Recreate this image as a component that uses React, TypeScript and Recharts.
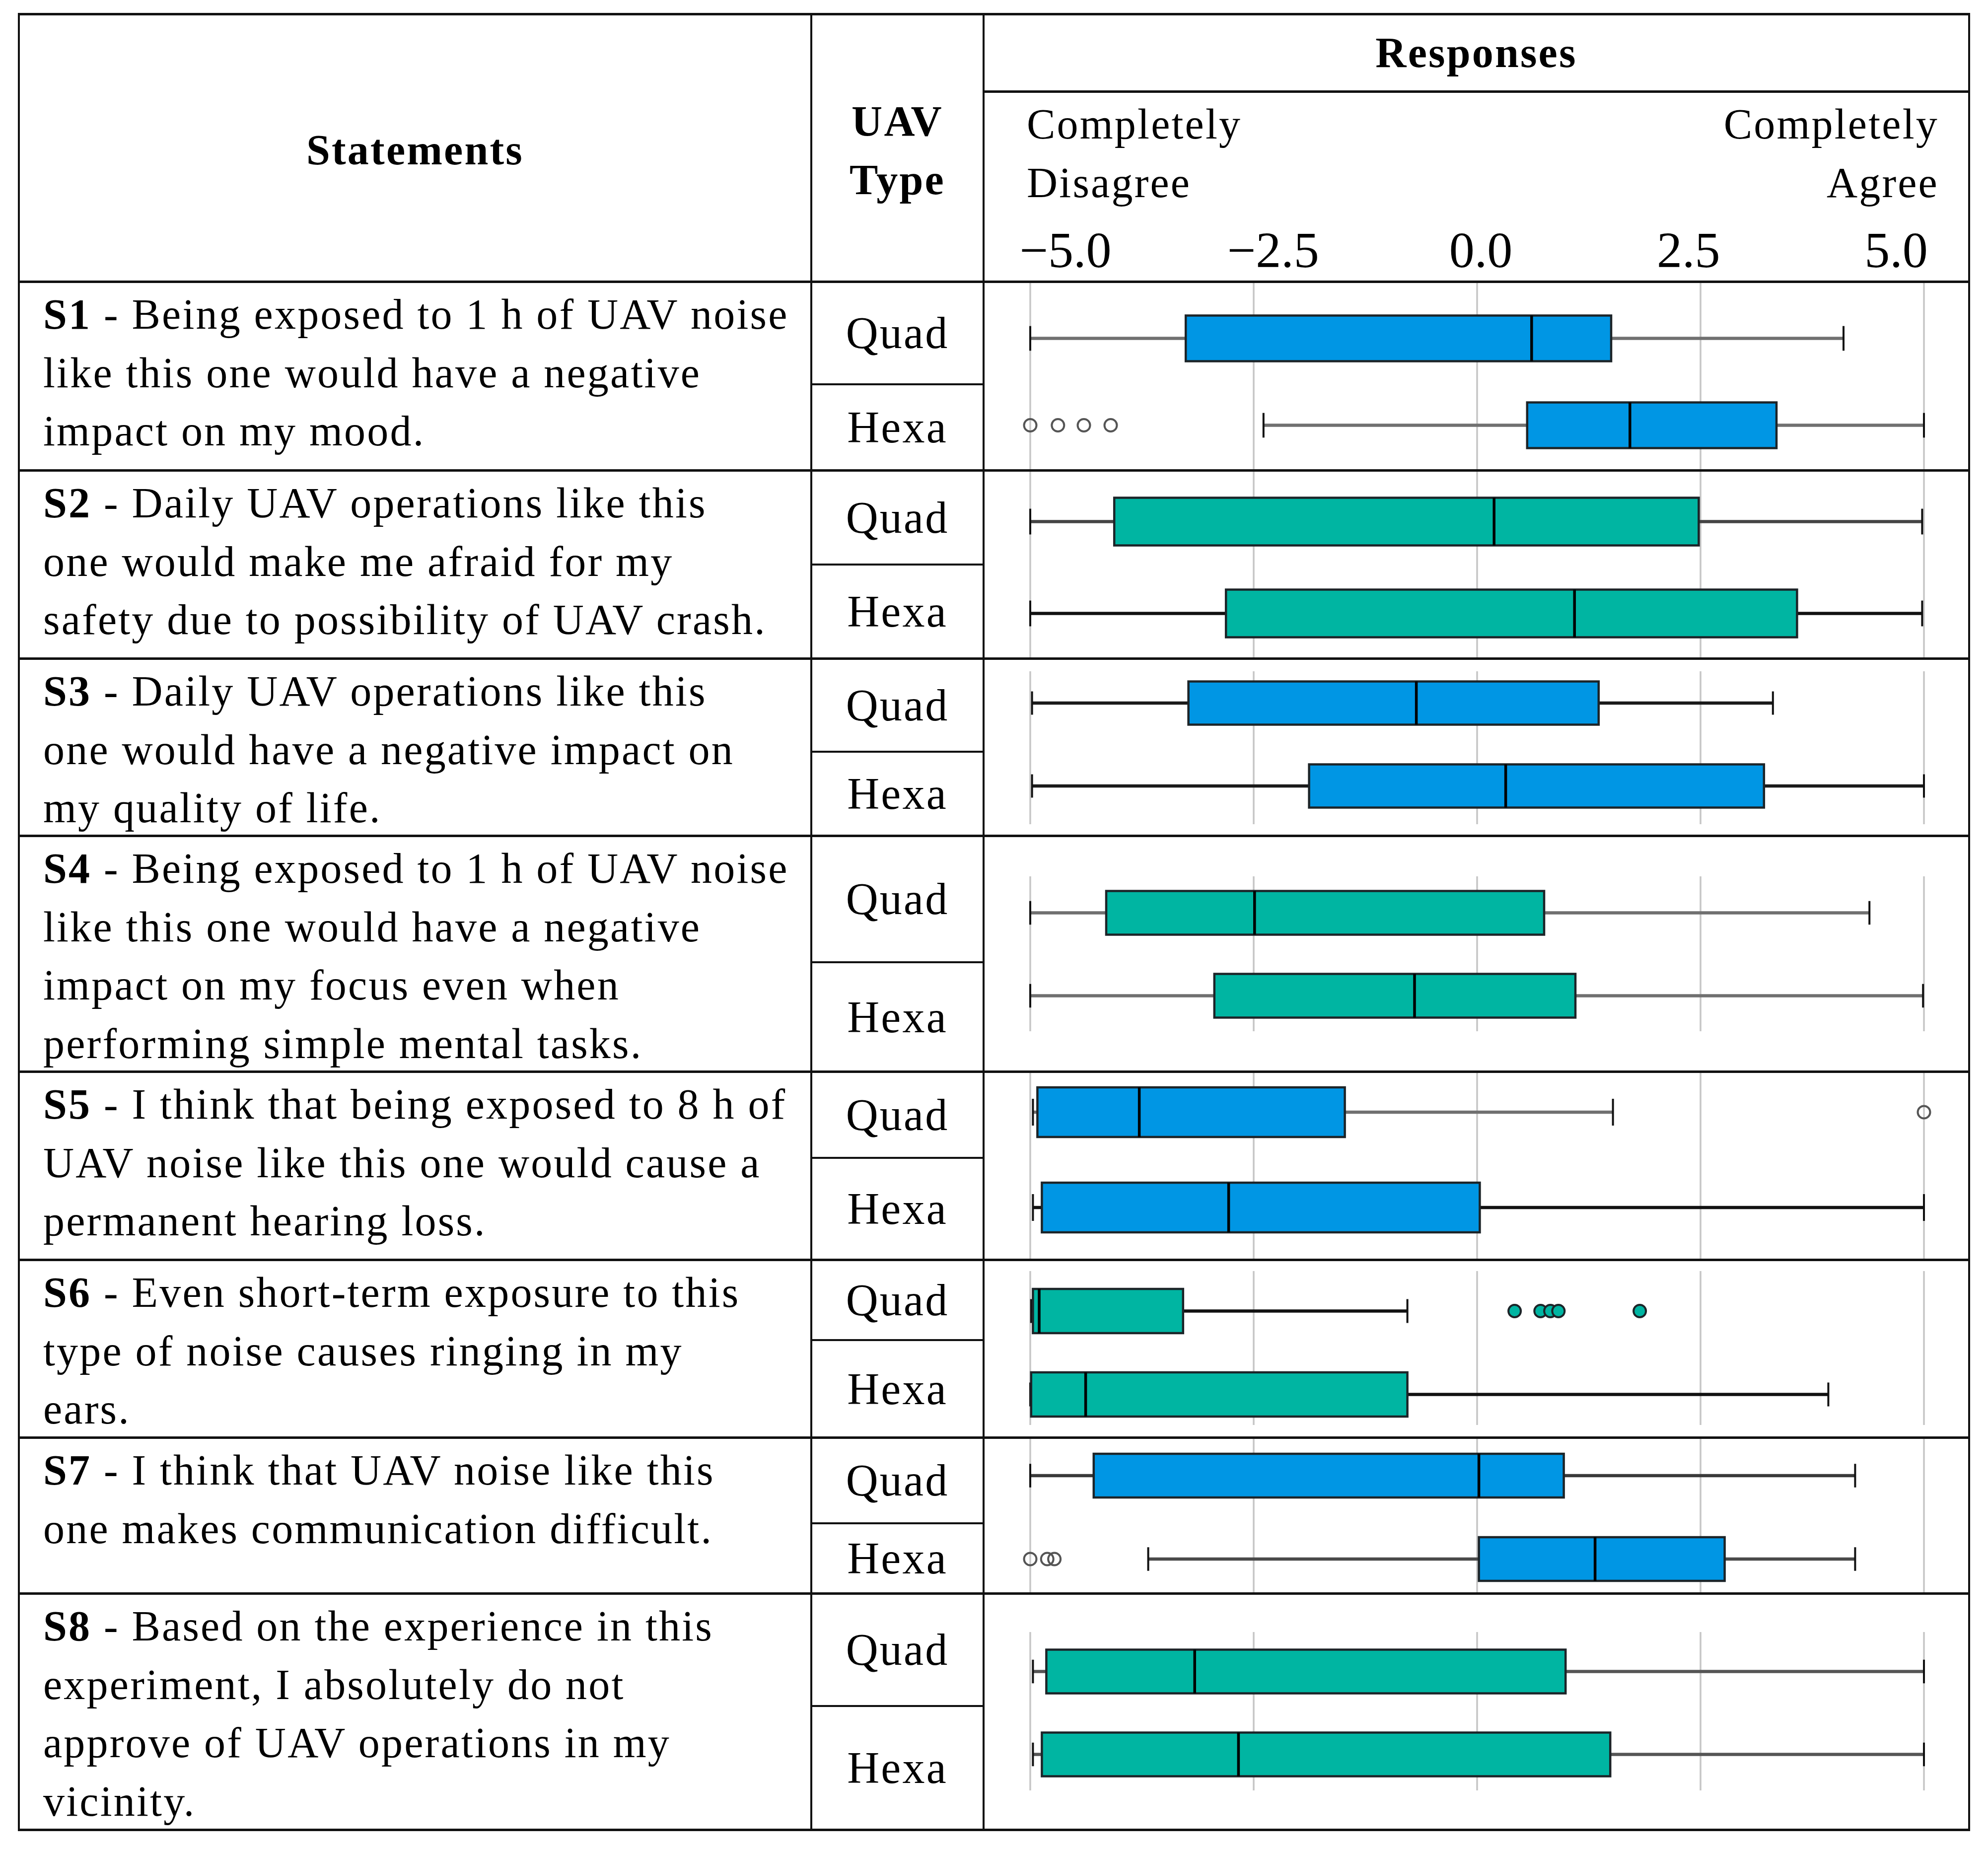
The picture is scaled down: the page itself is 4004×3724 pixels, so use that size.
import React from 'react';
import { ComposedChart, Bar, Line, XAxis, YAxis, CartesianGrid } from 'recharts';

// ---------------- DATA ----------------
const statementIds = ['S1', 'S2', 'S3', 'S4', 'S5', 'S6', 'S7', 'S8'];
const statementLines: string[][] = [
  [' - Being exposed to 1 h of UAV noise', 'like this one would have a negative', 'impact on my mood.'],
  [' - Daily UAV operations like this', 'one would make me afraid for my', 'safety due to possibility of UAV crash.'],
  [' - Daily UAV operations like this', 'one would have a negative impact on', 'my quality of life.'],
  [' - Being exposed to 1 h of UAV noise', 'like this one would have a negative', 'impact on my focus even when', 'performing simple mental tasks.'],
  [' - I think that being exposed to 8 h of', 'UAV noise like this one would cause a', 'permanent hearing loss.'],
  [' - Even short-term exposure to this', 'type of noise causes ringing in my', 'ears.'],
  [' - I think that UAV noise like this', 'one makes communication difficult.'],
  [' - Based on the experience in this', 'experiment, I absolutely do not', 'approve of UAV operations in my', 'vicinity.'],
];
const uavTypes = ['Quad', 'Hexa'];
const tickValues = [-5, -2.5, 0, 2.5, 5];

// order: S1 Quad, S1 Hexa, S2 Quad, S2 Hexa, ...
const minValues = [-5.0, -2.39, -5.0, -5.0, -4.98, -4.98, -5.0, -5.0, -4.97, -4.97, -4.99, -5.0, -5.0, -3.68, -4.97, -4.97];
const q1Values = [-3.26, 0.56, -4.06, -2.81, -3.23, -1.88, -4.15, -2.94, -4.92, -4.87, -4.97, -4.99, -4.29, 0.02, -4.82, -4.87];
const medianValues = [0.61, 1.71, 0.19, 1.09, -0.68, 0.32, -2.49, -0.7, -3.78, -2.78, -4.9, -4.38, 0.02, 1.32, -3.16, -2.67];
const q3Values = [1.5, 3.35, 2.48, 3.58, 1.36, 3.21, 0.75, 1.1, -1.48, 0.03, -3.29, -0.78, 0.97, 2.77, 0.99, 1.49];
const maxValues = [4.1, 5.0, 4.98, 4.98, 3.31, 5.0, 4.39, 4.99, 1.52, 5.0, -0.78, 3.93, 4.23, 4.23, 5.0, 5.0];
const outlierValues: number[][] = [
  [], [-5.0, -4.69, -4.4, -4.1],
  [], [],
  [], [],
  [], [],
  [5.0], [],
  [0.42, 0.71, 0.82, 0.91, 1.82], [],
  [], [-5.0, -4.81, -4.73],
  [], [],
];

// ---------------- LAYOUT / STYLE ----------------
const FONT = '"Liberation Serif", "Times New Roman", serif';
const FS = 86;
const LS = 3.2;
const LH = 117.5;
const T = { left: 38, col1: 1634, col2: 1981, right: 3966, top: 28, headerBottom: 567, respLine: 184, bottom: 3685 };
const rowEdges = [567, 947, 1326, 1683, 2158, 2537, 2895, 3209, 3685];
const subEdges = [774, 1137, 1514, 1938, 2332, 2699, 3068, 3436];
const gridExtents = [[569, 945], [949, 1324], [1352, 1660], [1765, 2077], [2160, 2535], [2560, 2870], [2897, 3207], [3287, 3606]];
const boxCenters = [[681, 856], [1050, 1235], [1416, 1583], [1838, 2005], [2240, 2432], [2640, 2808], [2972, 3140], [3366, 3533]];
const boxHeights = [92, 96, 87, 88, 100, 89, 88, 88];
const BLUE = '#0096E4';
const TEAL = '#00B5A2';
const groupFills = [BLUE, TEAL, BLUE, TEAL, BLUE, TEAL, BLUE, TEAL];
const whiskerColors = ['#707070', '#707070', '#444', '#111', '#1a1a1a', '#1a1a1a', '#707070', '#707070', '#707070', '#111', '#111', '#111', '#3a3a3a', '#4a4a4a', '#555', '#555'];
const outlierFilled = [false, false, false, false, false, false, false, false, false, false, true, false, false, false, false, false];
const CHART_LEFT = 1983;
const CHART_W = 3964 - 1983;
const PLOT_L = 2075 - CHART_LEFT;
const PLOT_R = 3964 - 3875;

const fmtTick = (v: number) => (v < 0 ? '\u2212' : '') + Math.abs(v).toFixed(1);

function BoxShape(props: any) {
  const { x, y, width, height, payload } = props;
  if (!payload || !isFinite(width) || !isFinite(x)) return null;
  const i = payload.i;
  const g = Math.floor(i / 2);
  const k = width / (payload.max - payload.min);
  const px = (v: number) => x + (v - payload.min) * k;
  const cy = y + height / 2;
  const cap = height * 0.27;
  const wc = whiskerColors[i];
  const fill = groupFills[g];
  return (
    <g>
      <line x1={px(payload.min)} x2={px(payload.q1)} y1={cy} y2={cy} stroke={wc} strokeWidth={6.5} />
      <line x1={px(payload.q3)} x2={px(payload.max)} y1={cy} y2={cy} stroke={wc} strokeWidth={6.5} />
      <line x1={px(payload.min)} x2={px(payload.min)} y1={cy - cap} y2={cy + cap} stroke="#111" strokeWidth={4} />
      <line x1={px(payload.max)} x2={px(payload.max)} y1={cy - cap} y2={cy + cap} stroke="#111" strokeWidth={4} />
      <rect x={px(payload.q1)} y={y} width={px(payload.q3) - px(payload.q1)} height={height} fill={fill} stroke="#1c2428" strokeWidth={4.5} />
      <line x1={px(payload.median)} x2={px(payload.median)} y1={y} y2={y + height} stroke="#000" strokeWidth={5.5} />
      {payload.outliers.map((o: number, n: number) => (
        <circle key={n} cx={px(o)} cy={cy} r={12.5}
          fill={outlierFilled[i] ? fill : 'none'}
          stroke={outlierFilled[i] ? '#1c2428' : '#555'} strokeWidth={4} />
      ))}
    </g>
  );
}

function GroupChart({ g }: { g: number }) {
  const top = rowEdges[g] - 40;
  const h = rowEdges[g + 1] - rowEdges[g] + 80;
  const [c1, c2] = boxCenters[g];
  const bw = c2 - c1;
  const mTop = c1 - bw / 2 - top;
  const mBottom = top + h - (c2 + bw / 2);
  const [gT, gB] = gridExtents[g];
  const data = uavTypes.map((t, j) => {
    const i = g * 2 + j;
    return {
      type: t,
      i,
      min: minValues[i],
      q1: q1Values[i],
      median: medianValues[i],
      q3: q3Values[i],
      max: maxValues[i],
      outliers: outlierValues[i],
      range: [minValues[i], maxValues[i]],
    };
  });
  return (
    <div style={{ position: 'absolute', left: CHART_LEFT, top, width: CHART_W, height: h }}>
      <ComposedChart width={CHART_W} height={h} data={data} layout="vertical"
        margin={{ top: mTop, bottom: mBottom, left: PLOT_L, right: PLOT_R }}>
        <CartesianGrid horizontal={false} vertical={true} stroke="#c6c6c6" strokeWidth={3.5}
          y={gT - top} height={gB - gT} />
        <XAxis type="number" domain={[-5, 5]} ticks={tickValues} hide />
        <YAxis type="category" dataKey="type" hide />
        <Bar dataKey="range" barSize={boxHeights[g]} shape={BoxShape} isAnimationActive={false} />
      </ComposedChart>
    </div>
  );
}

const headerTickData = tickValues.map((v) => ({ tick: v, level: 0 }));

function HeaderAxis() {
  return (
    <div style={{ position: 'absolute', left: CHART_LEFT, top: 446, width: CHART_W, height: 160 }}>
      <ComposedChart width={CHART_W} height={160} data={headerTickData}
        margin={{ top: 0, bottom: 0, left: 2146 - CHART_LEFT, right: 3964 - 3819 }}>
        <XAxis type="number" dataKey="tick" domain={[-5, 5]} ticks={tickValues} tickFormatter={fmtTick}
          axisLine={false} tickLine={false} tickSize={0} tickMargin={0} height={140} interval={0}
          tick={{ fontSize: 102, fill: '#000', fontFamily: FONT }} />
        <YAxis type="number" hide domain={[-1, 1]} />
        <Line dataKey="level" stroke="none" dot={false} activeDot={false} isAnimationActive={false} />
      </ComposedChart>
    </div>
  );
}

const HLine = ({ x1, x2, y, w = 5 }: { x1: number; x2: number; y: number; w?: number }) => (
  <div style={{ position: 'absolute', left: x1 - 2, top: y - w / 2, width: x2 - x1 + 4, height: w, background: '#111' }} />
);
const VLine = ({ x, y1, y2, w = 4 }: { x: number; y1: number; y2: number; w?: number }) => (
  <div style={{ position: 'absolute', left: x - w / 2, top: y1, width: w, height: y2 - y1, background: '#111' }} />
);

const textBase: React.CSSProperties = {
  position: 'absolute',
  fontSize: FS,
  letterSpacing: LS,
  lineHeight: `${LH}px`,
  whiteSpace: 'nowrap',
  color: '#000',
};

export default function App() {
  return (
    <div style={{ position: 'absolute', left: 0, top: 0, width: 4004, height: 3724, background: '#fff', fontFamily: FONT, overflow: 'hidden' }}>
      {/* charts */}
      {statementIds.map((_, g) => <GroupChart key={g} g={g} />)}
      <HeaderAxis />

      {/* header texts */}
      <div style={{ ...textBase, left: T.left, width: T.col1 - T.left, top: 244, textAlign: 'center', fontWeight: 'bold' }}>Statements</div>
      <div style={{ ...textBase, left: T.col1, width: T.col2 - T.col1, top: 185, textAlign: 'center', fontWeight: 'bold', lineHeight: '118px' }}>
        <div>UAV</div>
        <div>Type</div>
      </div>
      <div style={{ ...textBase, left: T.col2, width: T.right - T.col2, top: 48, textAlign: 'center', fontWeight: 'bold' }}>Responses</div>
      <div style={{ ...textBase, left: 2068, top: 191, lineHeight: '118px' }}>
        <div>Completely</div>
        <div>Disagree</div>
      </div>
      <div style={{ ...textBase, left: 2800, width: 3905 - 2800, top: 191, lineHeight: '118px', textAlign: 'right' }}>
        <div>Completely</div>
        <div>Agree</div>
      </div>

      {/* statement texts */}
      {statementIds.map((id, g) => (
        <div key={id} style={{ ...textBase, left: 87, top: rowEdges[g] + 8 }}>
          {statementLines[g].map((ln, k) => (
            <div key={k}>{k === 0 ? (<><b>{id}</b>{ln}</>) : ln}</div>
          ))}
        </div>
      ))}

      {/* UAV type labels */}
      {statementIds.map((id, g) => (
        <React.Fragment key={'t' + id}>
          {uavTypes.map((t, j) => {
            const y1 = j === 0 ? rowEdges[g] : subEdges[g];
            const y2 = j === 0 ? subEdges[g] : rowEdges[g + 1];
            return (
              <div key={t} style={{ position: 'absolute', left: T.col1, width: T.col2 - T.col1, top: y1, height: y2 - y1, display: 'flex', alignItems: 'center', justifyContent: 'center', fontSize: FS + 4, letterSpacing: LS, color: '#000' }}>
                {t}
              </div>
            );
          })}
        </React.Fragment>
      ))}

      {/* table lines */}
      <HLine x1={T.left} x2={T.right} y={T.top} />
      <HLine x1={T.col2} x2={T.right} y={T.respLine} />
      {rowEdges.map((y) => <HLine key={'r' + y} x1={T.left} x2={T.right} y={y} />)}
      {subEdges.map((y) => <HLine key={'s' + y} x1={T.col1} x2={T.col2} y={y} w={4} />)}
      <VLine x={T.left} y1={T.top} y2={T.bottom} />
      <VLine x={T.col1} y1={T.top} y2={T.bottom} />
      <VLine x={T.col2} y1={T.top} y2={T.bottom} />
      <VLine x={T.right} y1={T.top} y2={T.bottom} />
    </div>
  );
}
